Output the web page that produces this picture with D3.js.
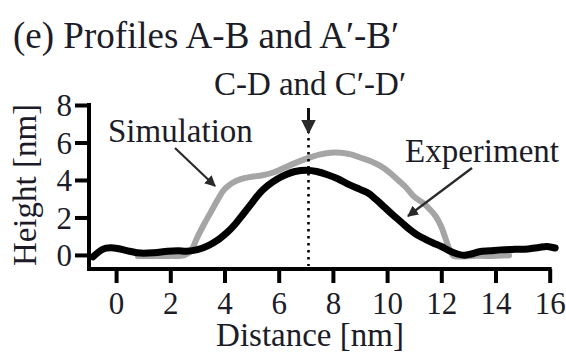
<!DOCTYPE html>
<html><head><meta charset="utf-8">
<script src="https://cdn.jsdelivr.net/npm/d3@7"></script>
</head>
<body style="margin:0">
<svg id="fig" width="566" height="352" font-family="Liberation Serif"><style>text{font-family:'Liberation Serif','Times New Roman',Tinos,monospace;}</style></svg>
<script>
const xTicks = [0, 2, 4, 6, 8, 10, 12, 14, 16];
const yTicks = [0, 2, 4, 6, 8];
const experimentX = [-0.85, -0.5, -0.2, 0.1, 0.5, 0.9, 1.4, 1.9, 2.3, 2.6, 3.0, 3.4, 3.8, 4.1, 4.4, 4.7, 5.0, 5.3, 5.6, 5.95, 6.3, 6.6, 7.05, 7.4, 7.8, 8.2, 8.6, 9.0, 9.3, 9.6, 9.9, 10.2, 10.5, 10.8, 11.1, 11.4, 11.7, 12.0, 12.3, 12.6, 12.85, 13.1, 13.4, 13.8, 14.2, 14.7, 15.2, 15.6, 15.9, 16.2];
const experimentY = [-0.1, 0.3, 0.38, 0.33, 0.2, 0.1, 0.12, 0.2, 0.22, 0.2, 0.28, 0.5, 0.85, 1.2, 1.65, 2.2, 2.75, 3.3, 3.7, 4.05, 4.3, 4.45, 4.52, 4.45, 4.28, 4.05, 3.75, 3.5, 3.3, 2.95, 2.55, 2.15, 1.78, 1.4, 1.08, 0.85, 0.64, 0.45, 0.22, 0.05, -0.02, 0.05, 0.17, 0.22, 0.27, 0.3, 0.32, 0.4, 0.45, 0.37];
const simulationX = [0.8, 1.5, 2.0, 2.5, 2.75, 3.0, 3.25, 3.5, 3.75, 4.0, 4.3, 4.6, 5.0, 5.4, 5.8, 6.2, 6.6, 7.05, 7.5, 7.9, 8.3, 8.7, 9.0, 9.4, 9.75, 10.05, 10.4, 10.7, 11.0, 11.3, 11.6, 11.8, 12.0, 12.15, 12.3, 12.45, 12.7, 13.2, 13.8, 14.5];
const simulationY = [-0.05, -0.05, -0.05, -0.02, 0.2, 0.95, 1.65, 2.3, 2.95, 3.5, 3.85, 4.05, 4.17, 4.25, 4.4, 4.65, 4.9, 5.15, 5.35, 5.45, 5.45, 5.35, 5.2, 5.0, 4.75, 4.45, 4.0, 3.6, 3.1, 2.8, 2.4, 2.05, 1.5, 0.9, 0.3, -0.05, -0.08, -0.05, -0.05, -0.02];
const cutX = 7.1;
const titleText = "(e) Profiles A-B and A\u2032-B\u2032";
const xLabel = "Distance [nm]";
const yLabel = "Height [nm]";
const simLabel = "Simulation";
const expLabel = "Experiment";
const cutLabel = "C-D and C\u2032-D\u2032";

const FONT = "'Liberation Serif', 'Times New Roman', Tinos, monospace";
const svg = d3.select("#fig");
const x = d3.scaleLinear().domain([-1, 16]).range([89, 549.7]);
const y = d3.scaleLinear().domain([-0.75, 8]).range([269, 105]);

svg.append("defs").append("marker")
  .attr("id","ah").attr("viewBox","0 0 10 10").attr("refX",9).attr("refY",5)
  .attr("markerWidth",5).attr("markerHeight",5).attr("orient","auto")
  .attr("markerUnits","strokeWidth")
  .append("path").attr("d","M0,0 L10,5 L0,10 z").attr("fill","#2a2a2a");

function T(sel) {
  return sel.attr("font-family", "Liberation Serif")
            .style("font-family", FONT).attr("fill", "#1c1c28");
}

// curves
const line = d3.line().x(d => x(d[0])).y(d => y(d[1])).curve(d3.curveCatmullRom.alpha(0.5));
svg.append("path").datum(simulationX.map((v,i)=>[v, simulationY[i]]))
  .attr("d", line).attr("fill","none").attr("stroke","#a5a5a5").attr("stroke-width",6)
  .attr("stroke-linecap","round").attr("stroke-linejoin","round");
svg.append("path").datum(experimentX.map((v,i)=>[v, experimentY[i]]))
  .attr("d", line).attr("fill","none").attr("stroke","#000").attr("stroke-width",7)
  .attr("stroke-linecap","round").attr("stroke-linejoin","round");

// dotted line
svg.append("line").attr("x1", x(cutX)).attr("x2", x(cutX)).attr("y1", 138).attr("y2", 266)
  .attr("stroke","#000").attr("stroke-width",2.6).attr("stroke-dasharray","2.6,4.4");

// axes
const gx = svg.append("g").attr("transform", `translate(0,${y(-0.75)})`)
  .call(d3.axisBottom(x).tickValues(xTicks).tickSize(14).tickSizeOuter(0));
const gy = svg.append("g").attr("transform", `translate(${x(-1)},0)`)
  .call(d3.axisLeft(y).tickValues(yTicks).tickSize(14).tickSizeOuter(0));
[gx, gy].forEach(g => {
  g.attr("font-family", "Liberation Serif").attr("font-size", 31);
  g.select(".domain").attr("stroke","#000").attr("stroke-width",4);
  g.selectAll(".tick line").attr("stroke","#000").attr("stroke-width",4);
  T(g.selectAll(".tick text")).attr("font-size",31);
});
gx.select(".domain").attr("d", `M${x(-1)-2},0H${x(16)+2}`);
gy.select(".domain").attr("d", `M0,${y(8)-2}V${y(-0.75)+2}`);
gx.selectAll(".tick text").attr("y", 45).attr("dy", 0);
gy.selectAll(".tick text").attr("x", -17).attr("dy", "0.35em");

// title
T(svg.append("text")).attr("x", 13).attr("y", 48).attr("font-size", 37).text(titleText);

// axis labels
T(svg.append("text")).attr("x", 310).attr("y", 346).attr("font-size", 33)
  .attr("text-anchor","middle").text(xLabel);
T(svg.append("text")).attr("transform","translate(36,185) rotate(-90)").attr("font-size", 33)
  .attr("text-anchor","middle").text(yLabel);

// annotations
T(svg.append("text")).attr("x", 108).attr("y", 142).attr("font-size", 33).text(simLabel);
svg.append("line").attr("x1",175).attr("y1",148).attr("x2",215).attr("y2",186)
  .attr("stroke","#2a2a2a").attr("stroke-width",2.2).attr("marker-end","url(#ah)");
T(svg.append("text")).attr("x", 405).attr("y", 162).attr("font-size", 33).text(expLabel);
svg.append("line").attr("x1",472).attr("y1",168).attr("x2",408).attr("y2",216)
  .attr("stroke","#2a2a2a").attr("stroke-width",2.2).attr("marker-end","url(#ah)");
T(svg.append("text")).attr("x", 310).attr("y", 95).attr("font-size", 33)
  .attr("text-anchor","middle").text(cutLabel);
svg.append("line").attr("x1",x(cutX)).attr("y1",108).attr("x2",x(cutX)).attr("y2",133)
  .attr("stroke","#111").attr("stroke-width",3).attr("marker-end","url(#ah)");
</script>
</body></html>
